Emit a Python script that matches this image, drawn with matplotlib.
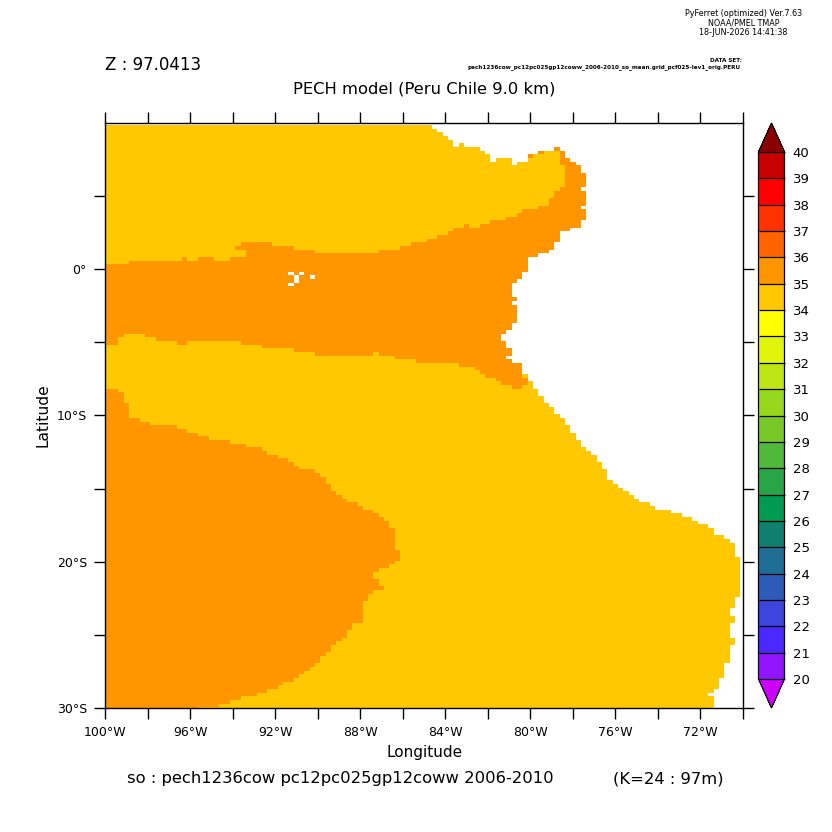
import numpy as np
import matplotlib
matplotlib.use("Agg")
import matplotlib.pyplot as plt
from matplotlib.colors import ListedColormap, BoundaryNorm

# salinity classes seen in the picture
AMBER = 34.5
ORANGE = 35.5

# per row (north to south): first grid column that is no longer ocean
east_edge = [
    62, 63, 64, 65, 66, 68, 86, 87, 87, 88,
    89, 90, 90, 91, 91, 91, 91, 90, 91, 91,
    91, 91, 90, 91, 91, 91, 90, 90, 88, 86,
    86, 86, 85, 85, 84, 82, 80, 80, 80, 80,
    79, 79, 78, 77, 77, 77, 77, 78, 77, 78,
    78, 78, 78, 78, 77, 77, 76, 75, 75, 76,
    76, 77, 77, 76, 77, 79, 79, 79, 80, 80,
    81, 81, 82, 82, 83, 83, 84, 85, 85, 86,
    87, 87, 88, 88, 89, 89, 90, 90, 91, 92,
    93, 93, 94, 94, 95, 95, 95, 96, 97, 98,
    99, 100, 101, 103, 104, 107, 109, 111, 112, 114,
    115, 115, 117, 118, 119, 119, 119, 119, 120, 120,
    120, 120, 120, 120, 120, 120, 120, 120, 120, 119,
    119, 119, 118, 118, 119, 119, 118, 118, 118, 118,
    119, 119, 118, 118, 118, 118, 118, 117, 117, 117,
    117, 116, 116, 116, 115, 114, 115, 115, 115, 115,
]

# per column (west to east): row where the northern 35-36 band starts / ends
band_top = [
    38, 38, 38, 38, 38, 37, 37, 37, 37, 37,
    37, 37, 37, 37, 37, 36, 37, 37, 36, 36,
    36, 37, 37, 37, 36, 36, 36, 32, 32, 32,
    32, 32, 33, 33, 33, 33, 34, 34, 34, 34,
    35, 35, 35, 35, 35, 35, 35, 35, 35, 35,
    35, 35, 34, 34, 34, 34, 33, 33, 32, 32,
    32, 31, 31, 30, 30, 29, 28, 28, 27, 28,
    28, 27, 27, 26, 26, 26, 25, 25, 24, 23,
    23, 23, 22, 22, 20, 18, 17, 0, 0, 0,
    0, 0, 0, 0, 0, 0, 0, 0, 0, 0,
    0, 0, 0, 0, 0, 0, 0, 0, 0, 0,
    0, 0, 0, 0, 0, 0, 0, 0, 0, 0,
]
band_bottom = [
    60, 60, 60, 58, 57, 57, 57, 57, 58, 58,
    59, 59, 59, 59, 60, 60, 59, 59, 59, 59,
    59, 59, 59, 59, 59, 59, 60, 60, 60, 60,
    61, 61, 61, 61, 61, 61, 62, 62, 62, 62,
    63, 63, 63, 63, 63, 63, 63, 63, 63, 63,
    63, 62, 63, 63, 63, 64, 64, 64, 64, 65,
    65, 65, 65, 65, 65, 65, 65, 66, 66, 66,
    67, 68, 69, 69, 70, 71, 71, 72, 72, 71,
    70, 70, 70, 70, 70, 70, 70, 70, 70, 70,
    70, 70, 70, 70, 70, 70, 70, 70, 70, 70,
    70, 70, 70, 70, 70, 70, 70, 70, 70, 70,
    70, 70, 70, 70, 70, 70, 70, 70, 70, 70,
]

# southern 35-36 pool: first row it covers and its eastern limit for each row from there
south_first_row = 72
south_limit = [
    3, 4, 4, 4, 5, 5, 5, 5, 7, 9,
    14, 16, 18, 20, 24, 27, 30, 31, 33, 35,
    36, 37, 40, 41, 42, 42, 43, 43, 44, 45,
    46, 48, 49, 51, 52, 53, 54, 54, 55, 55,
    55, 55, 55, 55, 56, 56, 56, 55, 54, 52,
    51, 51, 52, 52, 53, 51, 50, 50, 49, 49,
    49, 49, 49, 49, 47, 47, 46, 46, 45, 44,
    43, 43, 42, 41, 41, 40, 39, 38, 37, 36,
    34, 33, 31, 29, 26, 24, 22, 18,
]

# single cells that break the stepped outlines (row, column)
orange_cells = [(32, 26), (33, 25), (33, 26), (6, 85), (7, 82), (8, 80),
                (7, 86), (8, 86), (9, 86), (10, 86)]
amber_cells = [(68, 79)]
ocean_holes = [(40, 35), (40, 37), (41, 36), (42, 36), (41, 39), (43, 35)]
land_gaps = [(5, 66, 67), (6, 71, 85), (7, 72, 82), (8, 73, 80),
             (9, 73, 74), (9, 77, 80), (10, 77, 78)]

level_labels = list(range(20, 41))
level_colors = ["#9314FF", "#4A28FF", "#3C46DC", "#2E5AB8", "#1E6E96",
                "#0F8070", "#009B50", "#28A546", "#50B93C", "#78C828",
                "#96D81E", "#BEE614", "#E1F50A", "#FFFF00", "#FFC800",
                "#FF9600", "#FF6400", "#FF3200", "#FF0000", "#C80000"]
under_color = "#CC00FF"
over_color = "#8B0000"

lon_ticks = list(range(-100, -69, 2))
lon_labels = ["100°W", "", "96°W", "", "92°W", "", "88°W", "", "84°W", "",
              "80°W", "", "76°W", "", "72°W", ""]
lat_ticks = [5, 0, -5, -10, -15, -20, -25, -30]
lat_labels = ["", "0°", "", "10°S", "", "20°S", "", "30°S"]

n_rows = len(east_edge)
n_cols = len(band_top)
lon_edges = -100.125 + 0.25 * np.arange(n_cols + 1)
lat_edges = 9.82 - 0.25 * np.arange(n_rows + 1)

so = np.full((n_rows, n_cols), AMBER)
for k in range(n_cols):
    so[band_top[k]:band_bottom[k], k] = ORANGE
for n, limit in enumerate(south_limit):
    so[south_first_row + n, :limit] = ORANGE
for r, k in orange_cells:
    so[r, k] = ORANGE
for r, k in amber_cells:
    so[r, k] = AMBER
for r in range(n_rows):
    so[r, east_edge[r]:] = np.nan
for r, k in ocean_holes:
    so[r, k] = np.nan
for r, k0, k1 in land_gaps:
    so[r, k0:k1] = np.nan

plt.rcParams["font.family"] = "DejaVu Sans"

W = 832.0
fig = plt.figure(figsize=(8.32, 8.32), dpi=100)
ax = fig.add_axes([105 / W, 1 - 708.3 / W, 638 / W, 585.8 / W])

cmap = ListedColormap(level_colors)
cmap.set_under(under_color)
cmap.set_over(over_color)
cmap.set_bad("white")
norm = BoundaryNorm(level_labels, cmap.N)

mesh = ax.pcolormesh(lon_edges, lat_edges, np.ma.masked_invalid(so), cmap=cmap,
                     norm=norm, antialiased=False, linewidth=0)
ax.set_xlim(-100, -70)
ax.set_ylim(-30, 10)
ax.set_xticks(lon_ticks, lon_labels)
ax.set_yticks(lat_ticks, lat_labels)
ax.tick_params(top=True, right=True, direction="out", length=8, width=1,
               labelsize=9, pad=5)
for s in ax.spines.values():
    s.set_linewidth(1)

cax = fig.add_axes([758.5 / W, 1 - 708 / W, 26 / W, 585 / W])
cb = fig.colorbar(mesh, cax=cax, extend="both", extendfrac=0.055, drawedges=True,
                  ticks=level_labels, spacing="uniform")
cb.ax.tick_params(length=0, labelsize=9.5, pad=6)
cb.outline.set_linewidth(0.9)
cb.dividers.set_linewidth(0.9)


def label(x, y, s, size, ha="center", **kw):
    fig.text(x / W, 1 - y / W, s, fontsize=size, ha=ha, va="center", **kw)


label(424.5, 752, "Longitude", 11)
label(43, 415, "Latitude", 11.2, rotation=90)
label(424.5, 89, "PECH model (Peru Chile 9.0 km)", 11.8)
label(105, 65, "Z : 97.0413", 12, ha="left")
label(127, 779, "so : pech1236cow pc12pc025gp12coww 2006-2010", 11.8, ha="left")
label(724, 779, "(K=24 : 97m)", 11.8, ha="right")

label(743.5, 14, "PyFerret (optimized) Ver.7.63", 5.8)
label(743.5, 23, "NOAA/PMEL TMAP", 5.8)
label(743.5, 32.5, "18-JUN-2026 14:41:38", 5.8)
label(742, 60, "DATA SET:", 4.1, ha="right", fontweight="bold")
label(741, 67, "pech1236cow_pc12pc025gp12coww_2006-2010_so_mean.grid_pcf025-lev1_orig.PERU",
      4.1, ha="right", fontweight="bold")

fig.savefig("out.png", dpi=100)
